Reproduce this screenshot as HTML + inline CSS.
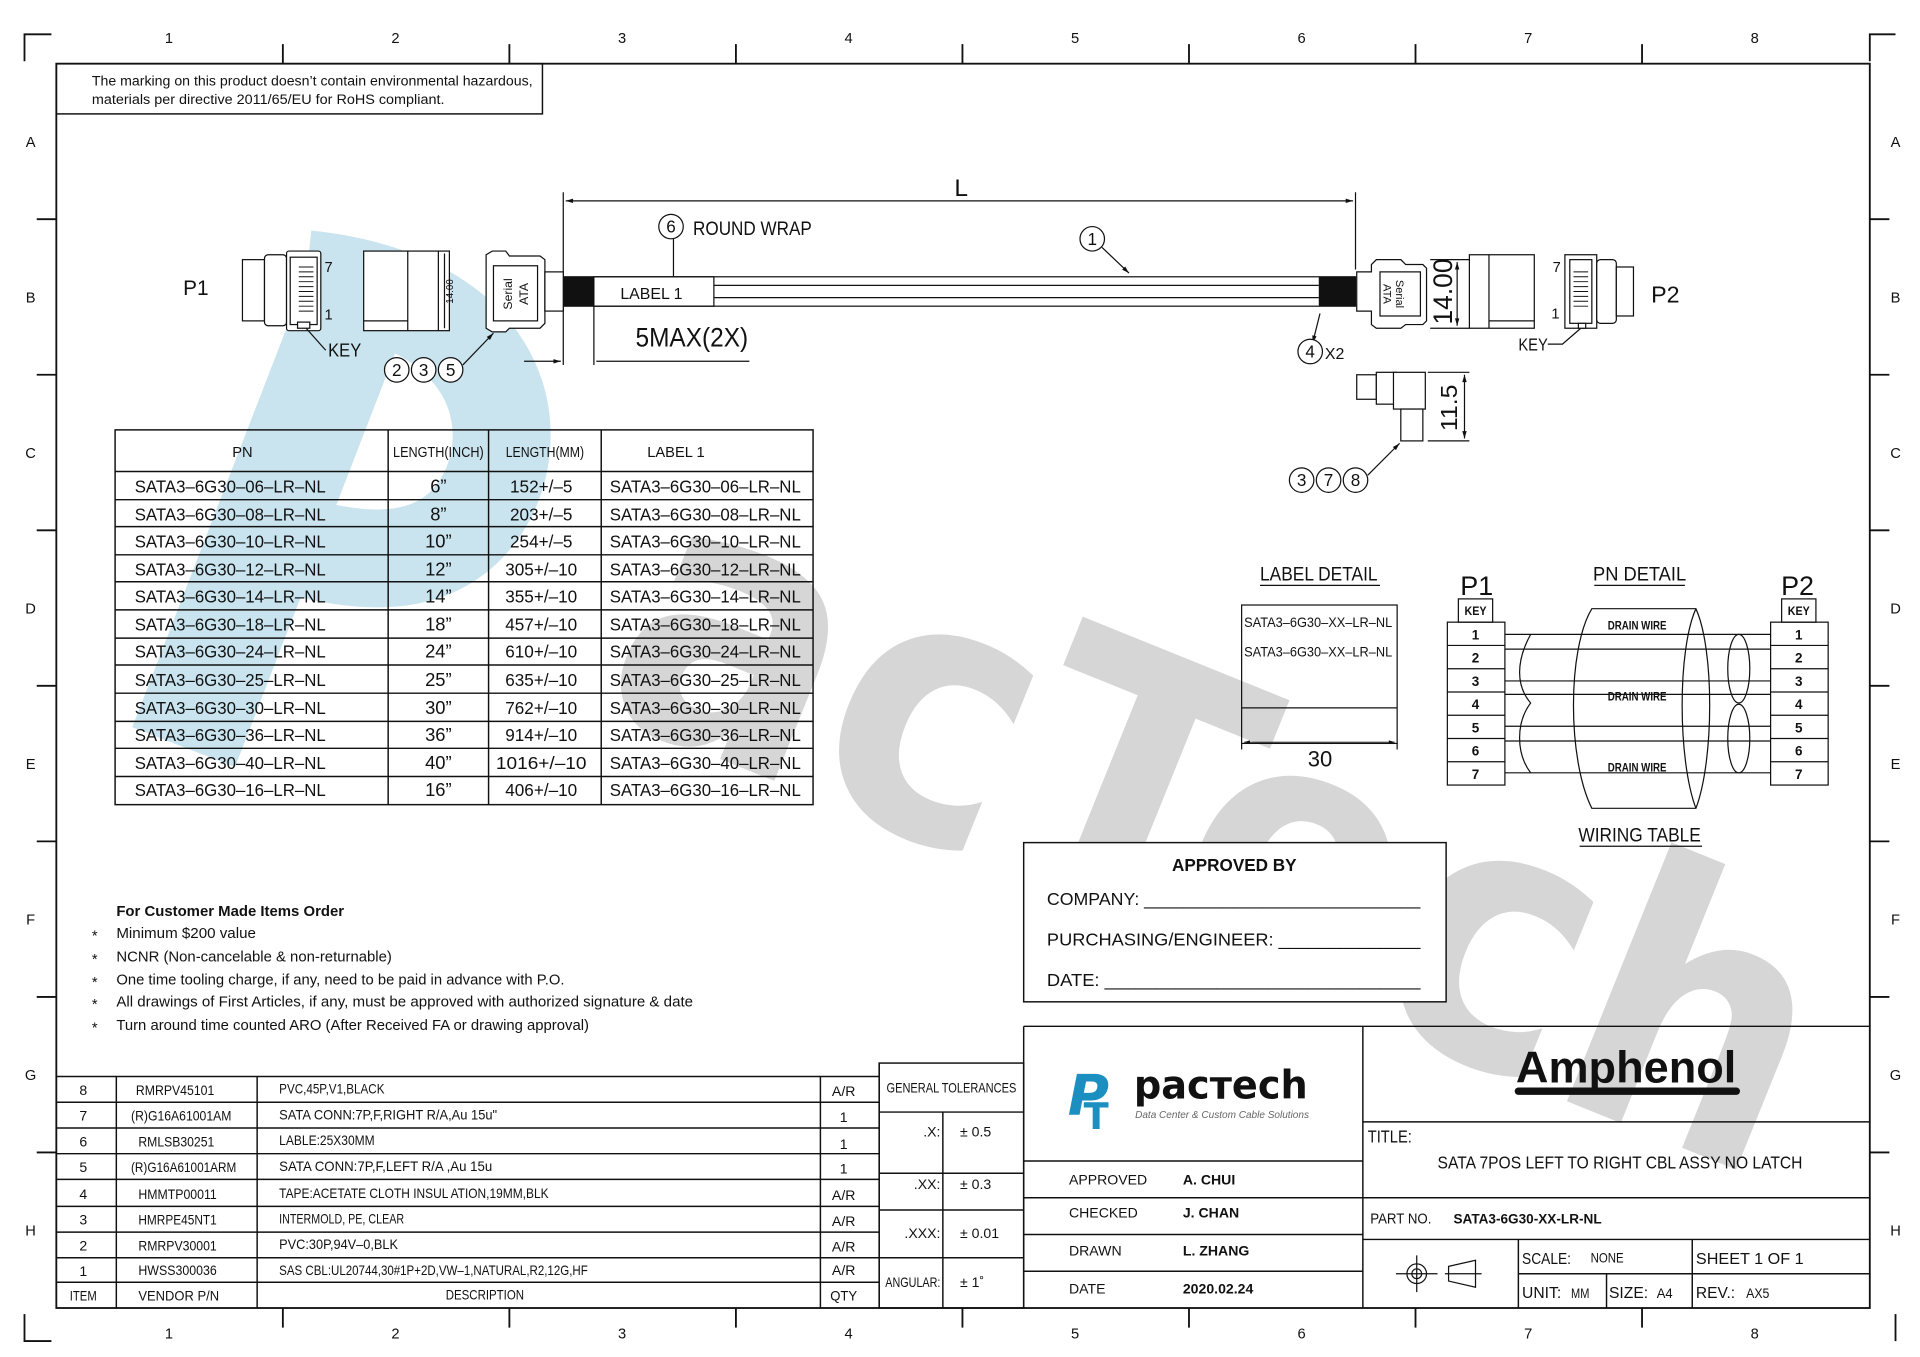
<!DOCTYPE html>
<html><head><meta charset="utf-8"><style>
html,body{margin:0;padding:0;background:#fff;}
svg{display:block}
text{font-family:"Liberation Sans",sans-serif;fill:#111}
</style></head><body>
<svg width="1920" height="1357" viewBox="0 0 1568 1108" preserveAspectRatio="none" xmlns="http://www.w3.org/2000/svg">
<defs>
<marker id="a" viewBox="0 0 10 10" refX="10" refY="5" markerWidth="10" markerHeight="6" orient="auto-start-reverse"><path d="M0,2 L10,5 L0,8 z" fill="#111"/></marker>
</defs>
<rect width="1568" height="1108" fill="#fff"/>
<!-- watermark -->
<g fill="none" stroke="#c9e4ee" stroke-linecap="butt">
<path d="M150,610 L295,235" stroke-width="90"/>
<path d="M250,228 C410,245 430,350 395,410 C365,460 310,465 240,445" stroke-width="80"/>
</g>
<text x="0" y="0" transform="translate(960,770) rotate(22)" text-anchor="middle" font-size="300" font-weight="bold" textLength="1030" lengthAdjust="spacingAndGlyphs" style="font-family:'DejaVu Sans',sans-serif;fill:#d6d6d6">acTech</text>

<!-- frame -->
<g stroke="#111" fill="none" stroke-width="1.5">
<rect x="46" y="52" width="1481" height="1016"/>
<path d="M20,50 V28 H42 M1548,28 H1527 V50 M20,1073 V1095 H42 M1548,1095 V1073"/>
<path d="M231,36V52 M416,36V52 M601,36V52 M786,36V52 M971,36V52 M1156,36V52 M1341,36V52"/>
<path d="M231,1068V1084 M416,1068V1084 M601,1068V1084 M786,1068V1084 M971,1068V1084 M1156,1068V1084 M1341,1068V1084"/>
<path d="M30,179H46 M30,306H46 M30,433H46 M30,560H46 M30,687H46 M30,814H46 M30,941H46"/>
<path d="M1527,179H1543 M1527,306H1543 M1527,433H1543 M1527,560H1543 M1527,687H1543 M1527,814H1543 M1527,941H1543"/>
</g>
<g font-size="12" text-anchor="middle">
<text x="138" y="35">1</text><text x="323" y="35">2</text><text x="508" y="35">3</text><text x="693" y="35">4</text><text x="878" y="35">5</text><text x="1063" y="35">6</text><text x="1248" y="35">7</text><text x="1433" y="35">8</text>
<text x="138" y="1093">1</text><text x="323" y="1093">2</text><text x="508" y="1093">3</text><text x="693" y="1093">4</text><text x="878" y="1093">5</text><text x="1063" y="1093">6</text><text x="1248" y="1093">7</text><text x="1433" y="1093">8</text>
<text x="25" y="120">A</text><text x="25" y="247">B</text><text x="25" y="374">C</text><text x="25" y="501">D</text><text x="25" y="628">E</text><text x="25" y="755">F</text><text x="25" y="882">G</text><text x="25" y="1009">H</text>
<text x="1548" y="120">A</text><text x="1548" y="247">B</text><text x="1548" y="374">C</text><text x="1548" y="501">D</text><text x="1548" y="628">E</text><text x="1548" y="755">F</text><text x="1548" y="882">G</text><text x="1548" y="1009">H</text>
</g>
<!-- note -->
<rect x="46" y="52" width="397" height="41" fill="none" stroke="#111" stroke-width="1.2"/>
<text x="75" y="70" font-size="11" textLength="360" lengthAdjust="spacingAndGlyphs">The marking on this product doesn’t contain environmental hazardous,</text>
<text x="75" y="85" font-size="11" textLength="288" lengthAdjust="spacingAndGlyphs">materials per directive 2011/65/EU for RoHS compliant.</text>

<!-- L dimension -->
<g stroke="#111" stroke-width="1" fill="none">
<path d="M460,157V298 M1107,157V220"/>
<path d="M462,164H1105" marker-start="url(#a)" marker-end="url(#a)"/>
</g>
<text x="785" y="160" font-size="20" text-anchor="middle">L</text>
<!-- cable -->
<g stroke="#111" stroke-width="1" fill="none">
<rect x="460" y="226" width="647" height="24" fill="#fff"/>
<path d="M583,233H1077 M583,243H1077"/>
<rect x="485" y="226" width="98" height="24"/>
</g>
<rect x="460" y="226" width="25" height="24" fill="#111"/>
<rect x="1077" y="226" width="30" height="24" fill="#111"/>
<text x="532" y="244" font-size="13" text-anchor="middle">LABEL  1</text>
<circle cx="548" cy="185" r="10" fill="none" stroke="#111"/>
<text x="548" y="190" font-size="14" text-anchor="middle">6</text>
<text x="566" y="192" font-size="16" textLength="97" lengthAdjust="spacingAndGlyphs">ROUND  WRAP</text>
<path d="M550,195V226" stroke="#111"/>
<circle cx="892" cy="195" r="10" fill="none" stroke="#111"/>
<text x="892" y="200" font-size="14" text-anchor="middle">1</text>
<path d="M900,202L922,223" stroke="#111" marker-end="url(#a)"/>
<g stroke="#111" fill="none">
<path d="M485,250V298"/>
<path d="M428,295H458" marker-end="url(#a)"/>
<path d="M487,295H612"/>
</g>
<text x="565" y="283" font-size="22" text-anchor="middle" textLength="92" lengthAdjust="spacingAndGlyphs">5MAX(2X)</text>

<!-- P1 -->
<g stroke="#111" stroke-width="1" fill="#fff">
<rect x="198" y="212" width="18" height="50"/>
<rect x="216" y="208" width="18" height="58" rx="3"/>
<rect x="234" y="205" width="28" height="65" rx="2"/>
<rect x="237" y="210" width="22" height="55"/>
<rect x="243" y="263" width="10" height="5"/>
<rect x="297" y="205" width="70" height="65"/>
<path d="M333,205V270 M358,205V270 M297,262H333"/>
<path d="M397,208 L402,205 H413 L416,209 H441 L445,212 V264 L441,268 H416 L413,271 H402 L397,268 Z"/>
<rect x="403" y="217" width="36" height="45"/>
<rect x="445" y="222" width="15" height="32"/>
</g>
<g fill="none" stroke="#111" stroke-width="0.8">
<path d="M244,218h12M244,222h12M244,226h12M244,230h12M244,234h12M244,238h12M244,242h12M244,246h12M244,250h12M244,254h12"/>
</g>
<text x="160" y="241" font-size="17" text-anchor="middle">P1</text>
<text x="265" y="222" font-size="12">7</text>
<text x="265" y="261" font-size="12">1</text>
<text x="268" y="291" font-size="15" textLength="27" lengthAdjust="spacingAndGlyphs">KEY</text>
<path d="M250,268 L266,286" stroke="#111" fill="none"/>
<text transform="translate(370,238) rotate(-90)" font-size="8" text-anchor="middle">14.00</text>
<path d="M363,207V268" stroke="#111"/>
<text transform="translate(418,240) rotate(-90)" font-size="10" text-anchor="middle">Serial</text>
<text transform="translate(431,240) rotate(-90)" font-size="10" text-anchor="middle">ATA</text>
<g fill="#fff" stroke="#111"><circle cx="324" cy="302" r="10"/><circle cx="346" cy="302" r="10"/><circle cx="368" cy="302" r="10"/></g>
<g font-size="14" text-anchor="middle"><text x="324" y="307">2</text><text x="346" y="307">3</text><text x="368" y="307">5</text></g>
<path d="M378,298 L403,272" stroke="#111" fill="none" marker-end="url(#a)"/>

<!-- right side -->
<g stroke="#111" stroke-width="1" fill="#fff">
<path d="M1108,222 H1120 V216 L1124,212 H1144 L1148,216 H1162 L1165,219 V262 L1162,265 H1148 L1144,268 H1124 L1120,265 V254 H1108 Z"/>
<rect x="1127" y="222" width="33" height="36"/>
<rect x="1200" y="208" width="53" height="60"/>
<path d="M1216,208V268 M1216,262H1253"/>
<rect x="1278" y="208" width="26" height="60"/>
<rect x="1282" y="212" width="18" height="52"/>
<rect x="1289" y="264" width="6" height="4"/>
<rect x="1304" y="212" width="16" height="52" rx="3"/>
<rect x="1320" y="218" width="14" height="40"/>
</g>
<path d="M1078,256 L1072,280" stroke="#111" fill="none" marker-end="url(#a)"/>
<g stroke="#111" stroke-width="0.8"><path d="M1285,222h12M1285,226h12M1285,230h12M1285,234h12M1285,238h12M1285,242h12M1285,246h12M1285,250h12"/></g>
<text transform="translate(1140,240) rotate(90)" font-size="9" text-anchor="middle">Serial</text>
<text transform="translate(1130,240) rotate(90)" font-size="9" text-anchor="middle">ATA</text>
<g stroke="#111" fill="none"><path d="M1168,212H1200 M1168,268H1200"/><path d="M1190,214V266" marker-start="url(#a)" marker-end="url(#a)"/></g>
<text transform="translate(1186,238) rotate(-90)" font-size="22" text-anchor="middle" textLength="54" lengthAdjust="spacingAndGlyphs">14.00</text>
<text x="1268" y="222" font-size="12">7</text><text x="1267" y="260" font-size="12">1</text>
<text x="1360" y="247" font-size="19" text-anchor="middle">P2</text>
<text x="1240" y="286" font-size="14" textLength="24" lengthAdjust="spacingAndGlyphs">KEY</text>
<path d="M1264,281 H1276 L1291,268" stroke="#111" fill="none"/>
<circle cx="1070" cy="287" r="10" fill="#fff" stroke="#111"/><text x="1070" y="292" font-size="14" text-anchor="middle">4</text>
<text x="1082" y="293" font-size="13">X2</text>
<g stroke="#111" fill="#fff">
<rect x="1108" y="306" width="16" height="20"/>
<rect x="1124" y="304" width="16" height="26"/>
<rect x="1138" y="304" width="26" height="30"/>
<rect x="1144" y="334" width="18" height="26"/>
</g>
<g stroke="#111" fill="none"><path d="M1166,304H1200 M1166,360H1200"/><path d="M1196,306V358" marker-start="url(#a)" marker-end="url(#a)"/></g>
<text transform="translate(1190,333) rotate(-90)" font-size="19" text-anchor="middle" textLength="38" lengthAdjust="spacingAndGlyphs">11.5</text>
<g fill="#fff" stroke="#111"><circle cx="1063" cy="392" r="10"/><circle cx="1085" cy="392" r="10"/><circle cx="1107" cy="392" r="10"/></g>
<g font-size="14" text-anchor="middle"><text x="1063" y="397">3</text><text x="1085" y="397">7</text><text x="1107" y="397">8</text></g>
<path d="M1117,388 L1143,362" stroke="#111" fill="none" marker-end="url(#a)"/>

<!-- PN table -->
<g stroke="#111" stroke-width="1.2" fill="none">
<rect x="94" y="351" width="570" height="306"/>
<path d="M317,351V657 M399,351V657 M491,351V657"/>
<path d="M94,385H664 M94,408H664 M94,430H664 M94,453H664 M94,475H664 M94,498H664 M94,521H664 M94,543H664 M94,566H664 M94,589H664 M94,611H664 M94,634H664"/>
</g>
<g font-size="12" text-anchor="middle">
<text x="198" y="373">PN</text><text x="358" y="373" textLength="74" lengthAdjust="spacingAndGlyphs">LENGTH(INCH)</text><text x="445" y="373" textLength="64" lengthAdjust="spacingAndGlyphs">LENGTH(MM)</text><text x="552" y="373">LABEL  1</text>
</g>
<g font-size="14">
<text x="110" y="402" textLength="156" lengthAdjust="spacingAndGlyphs">SATA3–6G30–06–LR–NL</text><text x="110" y="425" textLength="156" lengthAdjust="spacingAndGlyphs">SATA3–6G30–08–LR–NL</text><text x="110" y="447" textLength="156" lengthAdjust="spacingAndGlyphs">SATA3–6G30–10–LR–NL</text><text x="110" y="470" textLength="156" lengthAdjust="spacingAndGlyphs">SATA3–6G30–12–LR–NL</text><text x="110" y="492" textLength="156" lengthAdjust="spacingAndGlyphs">SATA3–6G30–14–LR–NL</text><text x="110" y="515" textLength="156" lengthAdjust="spacingAndGlyphs">SATA3–6G30–18–LR–NL</text><text x="110" y="537" textLength="156" lengthAdjust="spacingAndGlyphs">SATA3–6G30–24–LR–NL</text><text x="110" y="560" textLength="156" lengthAdjust="spacingAndGlyphs">SATA3–6G30–25–LR–NL</text><text x="110" y="583" textLength="156" lengthAdjust="spacingAndGlyphs">SATA3–6G30–30–LR–NL</text><text x="110" y="605" textLength="156" lengthAdjust="spacingAndGlyphs">SATA3–6G30–36–LR–NL</text><text x="110" y="628" textLength="156" lengthAdjust="spacingAndGlyphs">SATA3–6G30–40–LR–NL</text><text x="110" y="650" textLength="156" lengthAdjust="spacingAndGlyphs">SATA3–6G30–16–LR–NL</text>
<text x="498" y="402" textLength="156" lengthAdjust="spacingAndGlyphs">SATA3–6G30–06–LR–NL</text><text x="498" y="425" textLength="156" lengthAdjust="spacingAndGlyphs">SATA3–6G30–08–LR–NL</text><text x="498" y="447" textLength="156" lengthAdjust="spacingAndGlyphs">SATA3–6G30–10–LR–NL</text><text x="498" y="470" textLength="156" lengthAdjust="spacingAndGlyphs">SATA3–6G30–12–LR–NL</text><text x="498" y="492" textLength="156" lengthAdjust="spacingAndGlyphs">SATA3–6G30–14–LR–NL</text><text x="498" y="515" textLength="156" lengthAdjust="spacingAndGlyphs">SATA3–6G30–18–LR–NL</text><text x="498" y="537" textLength="156" lengthAdjust="spacingAndGlyphs">SATA3–6G30–24–LR–NL</text><text x="498" y="560" textLength="156" lengthAdjust="spacingAndGlyphs">SATA3–6G30–25–LR–NL</text><text x="498" y="583" textLength="156" lengthAdjust="spacingAndGlyphs">SATA3–6G30–30–LR–NL</text><text x="498" y="605" textLength="156" lengthAdjust="spacingAndGlyphs">SATA3–6G30–36–LR–NL</text><text x="498" y="628" textLength="156" lengthAdjust="spacingAndGlyphs">SATA3–6G30–40–LR–NL</text><text x="498" y="650" textLength="156" lengthAdjust="spacingAndGlyphs">SATA3–6G30–16–LR–NL</text>
</g>
<g font-size="15" text-anchor="middle">
<text x="358" y="402">6”</text><text x="358" y="425">8”</text><text x="358" y="447">10”</text><text x="358" y="470">12”</text><text x="358" y="492">14”</text><text x="358" y="515">18”</text><text x="358" y="537">24”</text><text x="358" y="560">25”</text><text x="358" y="583">30”</text><text x="358" y="605">36”</text><text x="358" y="628">40”</text><text x="358" y="650">16”</text>
</g>
<g font-size="14" text-anchor="middle">
<text x="442" y="402">152+/–5</text><text x="442" y="425">203+/–5</text><text x="442" y="447">254+/–5</text><text x="442" y="470">305+/–10</text><text x="442" y="492">355+/–10</text><text x="442" y="515">457+/–10</text><text x="442" y="537">610+/–10</text><text x="442" y="560">635+/–10</text><text x="442" y="583">762+/–10</text><text x="442" y="605">914+/–10</text><text x="442" y="628" textLength="74" lengthAdjust="spacingAndGlyphs">1016+/–10</text><text x="442" y="650">406+/–10</text>
</g>

<!-- label detail -->
<text x="1077" y="474" font-size="16" text-anchor="middle" textLength="96" lengthAdjust="spacingAndGlyphs">LABEL  DETAIL</text>
<path d="M1029,478H1127" stroke="#111"/>
<g stroke="#111" fill="none">
<rect x="1014" y="494" width="127" height="113"/>
<path d="M1014,578H1141 M1014,607V612 M1141,607V612"/>
<path d="M1016,606H1139" stroke-width="0.8" marker-start="url(#a)" marker-end="url(#a)"/>
</g>
<text x="1016" y="512" font-size="11" textLength="121" lengthAdjust="spacingAndGlyphs">SATA3–6G30–XX–LR–NL</text>
<text x="1016" y="536" font-size="11" textLength="121" lengthAdjust="spacingAndGlyphs">SATA3–6G30–XX–LR–NL</text>
<text x="1078" y="626" font-size="18" text-anchor="middle">30</text>

<!-- wiring -->
<text x="1206" y="486" font-size="22" text-anchor="middle">P1</text>
<text x="1468" y="486" font-size="22" text-anchor="middle">P2</text>
<text x="1339" y="474" font-size="16" text-anchor="middle" textLength="76" lengthAdjust="spacingAndGlyphs">PN  DETAIL</text>
<path d="M1302,478H1376" stroke="#111"/>
<text x="1339" y="687" font-size="16" text-anchor="middle" textLength="100" lengthAdjust="spacingAndGlyphs">WIRING  TABLE</text>
<path d="M1290,691H1390" stroke="#111"/>
<g stroke="#111" fill="none" stroke-width="1">
<rect x="1191" y="489" width="28" height="19"/>
<rect x="1182" y="508" width="47" height="133"/>
<path d="M1182,527H1229 M1182,546H1229 M1182,565H1229 M1182,584H1229 M1182,603H1229 M1182,622H1229"/>
<rect x="1455" y="489" width="28" height="19"/>
<rect x="1446" y="508" width="47" height="133"/>
<path d="M1446,527H1493 M1446,546H1493 M1446,565H1493 M1446,584H1493 M1446,603H1493 M1446,622H1493"/>
<path d="M1229,518H1446 M1229,530H1446 M1229,556H1446 M1229,567H1446 M1229,593H1446 M1229,605H1446 M1229,631H1446"/>
<path d="M1250,518 C1238,540 1238,560 1250,574 C1238,590 1238,615 1250,631"/>
<path d="M1300,497 C1280,530 1280,620 1300,660 H1385 C1400,620 1400,530 1385,497 Z"/>
<path d="M1385,497 C1370,530 1370,620 1385,660"/>
<ellipse cx="1420" cy="546" rx="9" ry="28"/>
<ellipse cx="1420" cy="603" rx="9" ry="28"/>
</g>
<g font-size="10" text-anchor="middle" font-weight="bold">
<text x="1205" y="502" textLength="18" lengthAdjust="spacingAndGlyphs">KEY</text><text x="1469" y="502" textLength="18" lengthAdjust="spacingAndGlyphs">KEY</text>
<text x="1337" y="514" textLength="48" lengthAdjust="spacingAndGlyphs">DRAIN  WIRE</text><text x="1337" y="572" textLength="48" lengthAdjust="spacingAndGlyphs">DRAIN  WIRE</text><text x="1337" y="630" textLength="48" lengthAdjust="spacingAndGlyphs">DRAIN  WIRE</text>
</g>
<g font-size="11" text-anchor="middle" font-weight="bold">
<text x="1205" y="522">1</text><text x="1205" y="541">2</text><text x="1205" y="560">3</text><text x="1205" y="579">4</text><text x="1205" y="598">5</text><text x="1205" y="617">6</text><text x="1205" y="636">7</text>
<text x="1469" y="522">1</text><text x="1469" y="541">2</text><text x="1469" y="560">3</text><text x="1469" y="579">4</text><text x="1469" y="598">5</text><text x="1469" y="617">6</text><text x="1469" y="636">7</text>
</g>

<!-- approved by -->
<rect x="836" y="688" width="345" height="130" fill="#fff" stroke="#111" stroke-width="1.2"/>
<g font-size="14">
<text x="1008" y="711" text-anchor="middle" font-weight="bold">APPROVED BY</text>
<text x="855" y="739" textLength="305" lengthAdjust="spacingAndGlyphs">COMPANY: ____________________________</text>
<text x="855" y="772" textLength="305" lengthAdjust="spacingAndGlyphs">PURCHASING/ENGINEER: ______________</text>
<text x="855" y="805" textLength="305" lengthAdjust="spacingAndGlyphs">DATE: _______________________________</text>
</g>

<!-- notes -->
<g font-size="12">
<text x="95" y="748" font-weight="bold" textLength="186" lengthAdjust="spacingAndGlyphs">For Customer Made Items Order</text>
<text x="75" y="768">*</text><text x="95" y="766" textLength="114" lengthAdjust="spacingAndGlyphs">Minimum $200 value</text>
<text x="75" y="787">*</text><text x="95" y="785" textLength="225" lengthAdjust="spacingAndGlyphs">NCNR (Non-cancelable &amp; non-returnable)</text>
<text x="75" y="806">*</text><text x="95" y="804" textLength="366" lengthAdjust="spacingAndGlyphs">One time tooling charge, if any, need to be paid in advance with P.O.</text>
<text x="75" y="824">*</text><text x="95" y="822" textLength="471" lengthAdjust="spacingAndGlyphs">All drawings of First Articles, if any, must be approved with authorized signature &amp; date</text>
<text x="75" y="843">*</text><text x="95" y="841" textLength="386" lengthAdjust="spacingAndGlyphs">Turn around time counted ARO (After Received FA or drawing approval)</text>
</g>

<!-- BOM -->
<rect x="46" y="868" width="1481" height="200" fill="#fff" opacity="0"/>
<g stroke="#111" stroke-width="1.2" fill="none">
<path d="M46,879H718 M46,900H718 M46,921H718 M46,942H718 M46,963H718 M46,985H718 M46,1006H718 M46,1027H718 M46,1047H718"/>
<path d="M95,879V1068 M210,879V1068 M670,879V1068 M718,868V1068"/>
<rect x="718" y="868" width="118" height="200"/>
<path d="M718,908H836 M718,958H836 M718,988H836 M718,1027H836 M770,908V1068"/>
<path d="M836,838H1527 M836,838V1068 M1113,838V1068"/>
<path d="M836,948H1113 M836,978H1113 M836,1008H1113 M836,1038H1113"/>
<path d="M1113,916H1527 M1113,978H1527 M1113,1012H1527 M1240,1040H1527 M1240,1012V1068 M1312,1040V1068 M1382,1012V1068"/>
</g>
<g font-size="11.5">
<text x="68" y="894" text-anchor="middle">8</text><text x="68" y="915" text-anchor="middle">7</text><text x="68" y="936" text-anchor="middle">6</text><text x="68" y="957" text-anchor="middle">5</text><text x="68" y="979" text-anchor="middle">4</text><text x="68" y="1000" text-anchor="middle">3</text><text x="68" y="1021" text-anchor="middle">2</text><text x="68" y="1042" text-anchor="middle">1</text><text x="68" y="1062" text-anchor="middle" textLength="22" lengthAdjust="spacingAndGlyphs">ITEM</text>
<text x="143" y="894" text-anchor="middle" textLength="64" lengthAdjust="spacingAndGlyphs">RMRPV45101</text><text x="148" y="915" text-anchor="middle" textLength="82" lengthAdjust="spacingAndGlyphs">(R)G16A61001AM</text><text x="144" y="936" text-anchor="middle" textLength="62" lengthAdjust="spacingAndGlyphs">RMLSB30251</text><text x="150" y="957" text-anchor="middle" textLength="86" lengthAdjust="spacingAndGlyphs">(R)G16A61001ARM</text><text x="145" y="979" text-anchor="middle" textLength="64" lengthAdjust="spacingAndGlyphs">HMMTP00011</text><text x="145" y="1000" text-anchor="middle" textLength="64" lengthAdjust="spacingAndGlyphs">HMRPE45NT1</text><text x="145" y="1021" text-anchor="middle" textLength="64" lengthAdjust="spacingAndGlyphs">RMRPV30001</text><text x="145" y="1041" text-anchor="middle" textLength="64" lengthAdjust="spacingAndGlyphs">HWSS300036</text><text x="146" y="1062" text-anchor="middle" textLength="66" lengthAdjust="spacingAndGlyphs">VENDOR  P/N</text>
<text x="228" y="893" textLength="86" lengthAdjust="spacingAndGlyphs">PVC,45P,V1,BLACK</text><text x="228" y="914" textLength="178" lengthAdjust="spacingAndGlyphs">SATA  CONN:7P,F,RIGHT  R/A,Au  15u"</text><text x="228" y="935" textLength="78" lengthAdjust="spacingAndGlyphs">LABLE:25X30MM</text><text x="228" y="956" textLength="174" lengthAdjust="spacingAndGlyphs">SATA  CONN:7P,F,LEFT  R/A  ,Au  15u</text><text x="228" y="978" textLength="220" lengthAdjust="spacingAndGlyphs">TAPE:ACETATE  CLOTH  INSUL  ATION,19MM,BLK</text><text x="228" y="999" textLength="102" lengthAdjust="spacingAndGlyphs">INTERMOLD,  PE,  CLEAR</text><text x="228" y="1020" textLength="97" lengthAdjust="spacingAndGlyphs">PVC:30P,94V–0,BLK</text><text x="228" y="1041" textLength="252" lengthAdjust="spacingAndGlyphs">SAS  CBL:UL20744,30#1P+2D,VW–1,NATURAL,R2,12G,HF</text><text x="396" y="1061" text-anchor="middle" textLength="64" lengthAdjust="spacingAndGlyphs">DESCRIPTION</text>
<text x="689" y="895" text-anchor="middle">A/R</text><text x="689" y="916" text-anchor="middle">1</text><text x="689" y="938" text-anchor="middle">1</text><text x="689" y="958" text-anchor="middle">1</text><text x="689" y="980" text-anchor="middle">A/R</text><text x="689" y="1001" text-anchor="middle">A/R</text><text x="689" y="1022" text-anchor="middle">A/R</text><text x="689" y="1041" text-anchor="middle">A/R</text><text x="689" y="1062" text-anchor="middle" textLength="22" lengthAdjust="spacingAndGlyphs">QTY</text>
<text x="777" y="892" text-anchor="middle" textLength="106" lengthAdjust="spacingAndGlyphs">GENERAL  TOLERANCES</text>
<text x="768" y="928" text-anchor="end">.X:</text><text x="784" y="928">± 0.5</text>
<text x="768" y="971" text-anchor="end">.XX:</text><text x="784" y="971">± 0.3</text>
<text x="768" y="1011" text-anchor="end">.XXX:</text><text x="784" y="1011">± 0.01</text>
<text x="768" y="1051" text-anchor="end" textLength="45" lengthAdjust="spacingAndGlyphs">ANGULAR:</text><text x="784" y="1051">± 1˚</text>
</g>
<!-- pactech logo -->
<text x="872" y="910" font-size="46" font-weight="bold" font-style="italic" style="fill:#1a8fc0;font-family:'DejaVu Sans',sans-serif">P</text>
<text x="885" y="922" font-size="30" font-weight="bold" style="fill:#1a8fc0;font-family:'DejaVu Sans',sans-serif">T</text>
<text x="926" y="897" font-size="32" font-weight="bold" textLength="142" lengthAdjust="spacingAndGlyphs" style="fill:#111;font-family:'DejaVu Sans',sans-serif">pacтech</text>
<text x="927" y="913" font-size="8.5" font-style="italic" style="fill:#666" textLength="142" lengthAdjust="spacingAndGlyphs">Data Center &amp; Custom Cable Solutions</text>
<g font-size="11.5">
<text x="873" y="967">APPROVED</text><text x="966" y="967" font-weight="bold">A. CHUI</text>
<text x="873" y="994">CHECKED</text><text x="966" y="994" font-weight="bold">J. CHAN</text>
<text x="873" y="1025">DRAWN</text><text x="966" y="1025" font-weight="bold">L. ZHANG</text>
<text x="873" y="1056">DATE</text><text x="966" y="1056" font-weight="bold">2020.02.24</text>
</g>
<text x="1328" y="884" font-size="36" font-weight="bold" text-anchor="middle" textLength="180" lengthAdjust="spacingAndGlyphs">Amphenol</text>
<rect x="1237" y="888" width="184" height="6" rx="3" fill="#111"/>
<text x="1117" y="933" font-size="14" textLength="36" lengthAdjust="spacingAndGlyphs">TITLE:</text>
<text x="1323" y="954" font-size="14" text-anchor="middle" textLength="298" lengthAdjust="spacingAndGlyphs">SATA  7POS  LEFT  TO RIGHT CBL  ASSY  NO LATCH</text>
<text x="1119" y="999" font-size="12" textLength="50" lengthAdjust="spacingAndGlyphs">PART NO.</text>
<text x="1187" y="999" font-size="11" font-weight="bold" textLength="121" lengthAdjust="spacingAndGlyphs">SATA3-6G30-XX-LR-NL</text>
<g stroke="#111" fill="none"><circle cx="1157" cy="1040" r="8"/><circle cx="1157" cy="1040" r="4"/><path d="M1140,1040H1174 M1157,1025V1055 M1180,1040H1210 M1183,1034L1205,1029V1051L1183,1046Z"/></g>
<g font-size="13">
<text x="1243" y="1032" textLength="40" lengthAdjust="spacingAndGlyphs">SCALE:</text><text x="1299" y="1031" font-size="11" textLength="27" lengthAdjust="spacingAndGlyphs">NONE</text>
<text x="1385" y="1032" textLength="88" lengthAdjust="spacingAndGlyphs">SHEET   1 OF  1</text>
<text x="1243" y="1060" textLength="32" lengthAdjust="spacingAndGlyphs">UNIT:</text><text x="1283" y="1060" font-size="11" textLength="15" lengthAdjust="spacingAndGlyphs">MM</text>
<text x="1314" y="1060" textLength="32" lengthAdjust="spacingAndGlyphs">SIZE:</text><text x="1353" y="1060" font-size="11" textLength="13" lengthAdjust="spacingAndGlyphs">A4</text>
<text x="1385" y="1060" textLength="32" lengthAdjust="spacingAndGlyphs">REV.:</text><text x="1426" y="1060" font-size="11" textLength="19" lengthAdjust="spacingAndGlyphs">AX5</text>
</g>
</svg>
</body></html>
